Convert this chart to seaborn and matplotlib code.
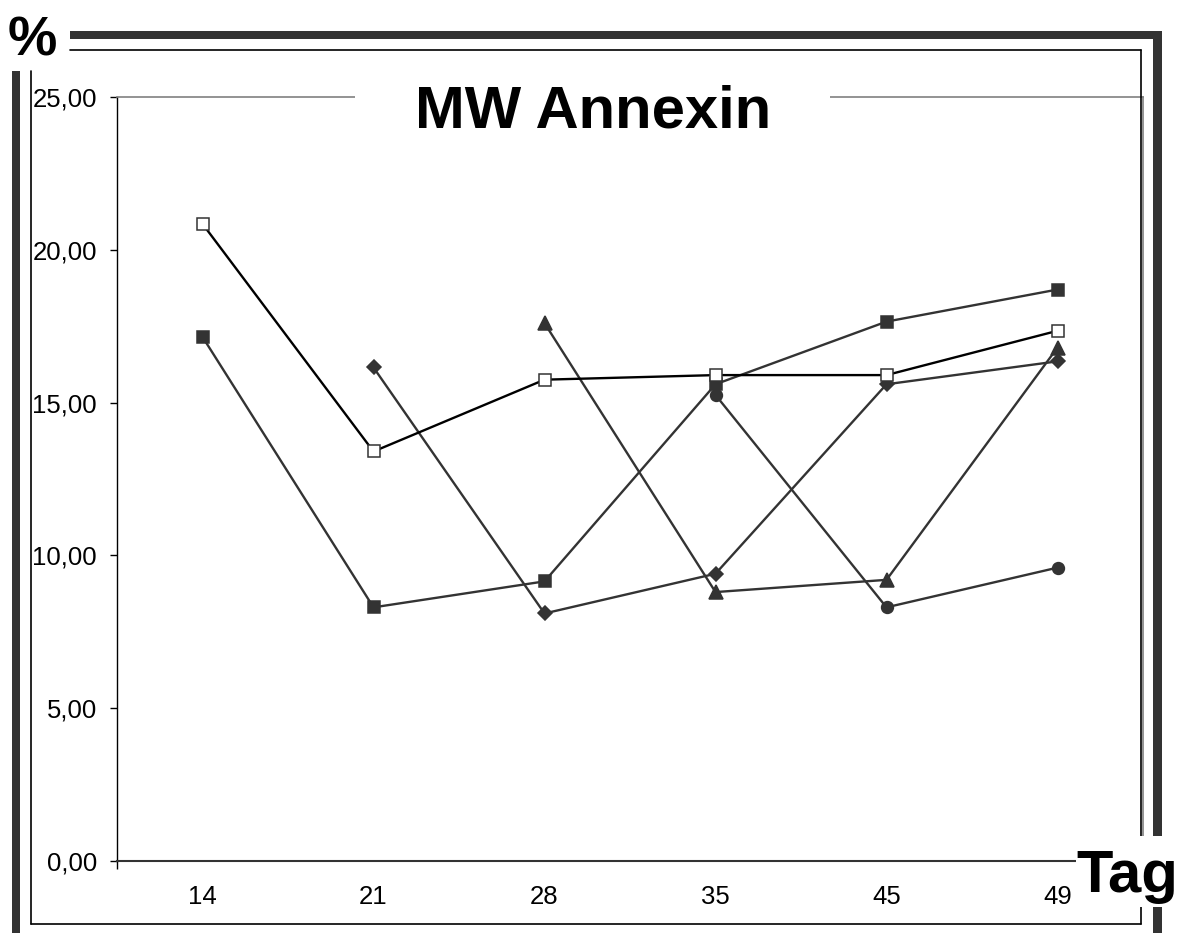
import matplotlib
matplotlib.use("Agg")
import matplotlib.pyplot as plt
import seaborn as sns
import numpy as np
import pandas as pd
from matplotlib.lines import Line2D
from matplotlib.patches import Rectangle
from matplotlib.ticker import FuncFormatter, FixedLocator

# ---- data ----
days = ["14", "21", "28", "35", "45", "49"]
s_filled_square = [17.15, 8.30, 9.15, 15.60, 17.65, 18.70]
s_open_square = [20.85, 13.40, 15.75, 15.90, 15.90, 17.35]
s_diamond = [np.nan, 16.15, 8.10, 9.40, 15.60, 16.35]
s_triangle = [np.nan, np.nan, 17.60, 8.80, 9.20, 16.80]
s_circle = [np.nan, np.nan, np.nan, 15.25, 8.30, 9.60]
y_ticks = [0, 5, 10, 15, 20, 25]
title_text = "MW Annexin"
y_unit = "%"
x_unit = "Tag"

sns.set_style("white")
plt.rcParams["font.family"] = ["Liberation Sans", "DejaVu Sans"]
plt.rcParams["text.color"] = "black"
plt.rcParams["xtick.color"] = "black"
plt.rcParams["ytick.color"] = "black"

W, H = 1186, 933
fig = plt.figure(figsize=(W / 100, H / 100), dpi=100)
fig.patch.set_facecolor("white")


def fx(px):
    return px / W


def fy(py):
    return 1 - py / H


ax = fig.add_axes([fx(117), fy(861), (1143 - 117) / W, (861 - 97) / H])
ax.set_facecolor("white")

dark = "#333333"
series = [
    (s_filled_square, dict(marker="s", markersize=8, color=dark, markerfacecolor=dark,
                           markeredgecolor=dark)),
    (s_diamond, dict(marker="D", markersize=7.3, color=dark, markerfacecolor=dark,
                     markeredgecolor=dark)),
    (s_triangle, dict(marker="^", markersize=9.5, color=dark, markerfacecolor=dark,
                      markeredgecolor=dark)),
    (s_circle, dict(marker="o", markersize=8.5, color=dark, markerfacecolor=dark,
                    markeredgecolor=dark)),
    (s_open_square, dict(marker="s", markersize=8, color="black", markerfacecolor="white",
                         markeredgecolor=dark)),
]
for vals, kw in series:
    df = pd.DataFrame({"day": days, "value": vals})
    sns.pointplot(data=df, x="day", y="value", order=days, errorbar=None, ax=ax,
                  linewidth=1.7, markeredgewidth=1.1, **kw)

ax.set_xlim(-0.5, len(days) - 0.5)
ax.set_ylim(0, 25)
ax.set_yticks(y_ticks)
ax.yaxis.set_major_formatter(FuncFormatter(lambda v, p: f"{v:.2f}".replace(".", ",")))
ax.set_xlabel("")
ax.set_ylabel("")
ax.grid(False)

ax.tick_params(axis="y", direction="out", length=5, width=1, pad=9.4,
               labelsize=18.5, color="black", labelcolor="black", left=True)
ax.tick_params(axis="x", which="major", length=0, pad=17, labelsize=18.5,
               labelcolor="black")
ax.xaxis.set_minor_locator(FixedLocator([-0.5]))
ax.tick_params(axis="x", which="minor", direction="out", length=6, width=1,
               color="black", bottom=True)

ax.spines["left"].set_color("black")
ax.spines["left"].set_linewidth(1.0)
ax.spines["bottom"].set_color(dark)
ax.spines["bottom"].set_linewidth(1.5)
for s in ("top", "right"):
    ax.spines[s].set_color("#808080")
    ax.spines[s].set_linewidth(1.2)
    ax.spines[s].set_visible(True)

# ---- outer frame ----
def prect(x0, y0, x1, y1, color, z):
    fig.add_artist(Rectangle((fx(x0), fy(y1)), (x1 - x0) / W, (y1 - y0) / H,
                             transform=fig.transFigure, facecolor=color,
                             edgecolor="none", zorder=z))


# thick dark bars
prect(70, 31, 1162, 39, dark, 1)
prect(1153, 31, 1162, 933, dark, 1)
prect(12, 71, 20, 933, dark, 1)

# thin black lines
def pline(xs, ys):
    fig.add_artist(Line2D([fx(x) for x in xs], [fy(y) for y in ys],
                          transform=fig.transFigure, color="black", lw=1.2, zorder=2))


pline([70, 1141], [50, 50])
pline([1141, 1141], [50, 924])
pline([30.5, 30.5], [71, 924])
pline([30.5, 1141], [924, 924])

# white boxes behind title and axis unit
prect(355, 70, 830, 135, "white", 4)
prect(1076, 836, 1186, 907, "white", 4)

fig.text(fx(593.5), fy(128), title_text, ha="center", va="baseline", fontsize=43,
         fontweight="bold", color="black", zorder=5)
fig.text(fx(8), fy(55), y_unit, ha="left", va="baseline", fontsize=40,
         fontweight="bold", color="black", zorder=5)
fig.text(fx(1076), fy(892), x_unit, ha="left", va="baseline", fontsize=43,
         fontweight="bold", color="black", zorder=5)

fig.savefig("out.png", dpi=100, facecolor="white")
